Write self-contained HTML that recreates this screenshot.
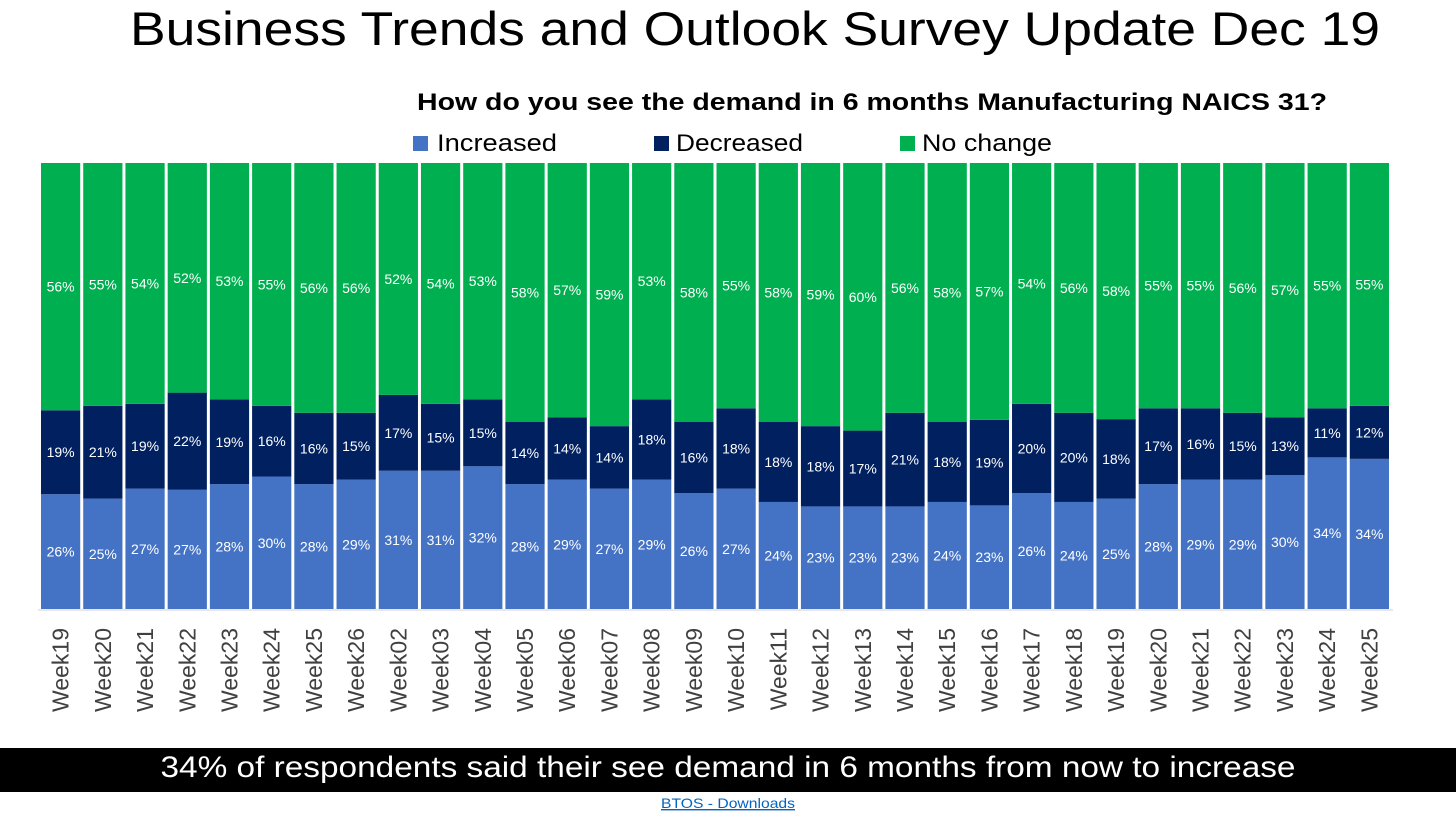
<!DOCTYPE html>
<html><head><meta charset="utf-8"><style>
html,body{margin:0;padding:0;background:#fff;}
svg{display:block;font-family:"Liberation Sans",sans-serif;}
</style></head><body>
<svg id="chart" width="1456" height="819" viewBox="0 0 1456 819">
<text x="755" y="45" text-anchor="middle" font-size="47" fill="#000" textLength="1250" lengthAdjust="spacingAndGlyphs">Business Trends and Outlook Survey Update Dec 19</text>
<text x="872" y="110" text-anchor="middle" font-size="24" font-weight="bold" fill="#000" textLength="910" lengthAdjust="spacingAndGlyphs">How do you see the demand in 6 months Manufacturing NAICS 31?</text>
<g font-size="24" fill="#000">
<rect x="413" y="136" width="15" height="15" fill="#4472C4"/>
<text x="437" y="151" textLength="120" lengthAdjust="spacingAndGlyphs">Increased</text>
<rect x="654" y="136" width="15" height="15" fill="#002060"/>
<text x="676" y="151" textLength="127" lengthAdjust="spacingAndGlyphs">Decreased</text>
<rect x="900" y="136" width="15" height="15" fill="#00B050"/>
<text x="922" y="151" textLength="130" lengthAdjust="spacingAndGlyphs">No change</text>
</g>
<g id="bars"></g>
<line x1="38" y1="610" x2="1393" y2="610" stroke="#d0d0d0" stroke-width="1"/>
<g id="xlabels"></g>
<rect x="0" y="748" width="1456" height="44" fill="#000"/>
<text x="728" y="777" text-anchor="middle" font-size="30" fill="#fff" textLength="1135" lengthAdjust="spacingAndGlyphs">34% of respondents said their see demand in 6 months from now to increase</text>
<a><text x="728" y="808" text-anchor="middle" font-size="14" fill="#0563C1" text-decoration="underline" textLength="134" lengthAdjust="spacingAndGlyphs">BTOS - Downloads</text></a>
</svg>
<script>
const categories = ["Week19","Week20","Week21","Week22","Week23","Week24","Week25","Week26","Week02","Week03","Week04","Week05","Week06","Week07","Week08","Week09","Week10","Week11","Week12","Week13","Week14","Week15","Week16","Week17","Week18","Week19","Week20","Week21","Week22","Week23","Week24","Week25"];
const increased = [26,25,27,27,28,30,28,29,31,31,32,28,29,27,29,26,27,24,23,23,23,24,23,26,24,25,28,29,29,30,34,34];
const decreased = [19,21,19,22,19,16,16,15,17,15,15,14,14,14,18,16,18,18,18,17,21,18,19,20,20,18,17,16,15,13,11,12];
const noChange = [56,55,54,52,53,55,56,56,52,54,53,58,57,59,53,58,55,58,59,60,56,58,57,54,56,58,55,55,56,57,55,55];

(function(){
const NS = "http://www.w3.org/2000/svg";
const plotL = 41, plotR = 1392, plotT = 163, plotB = 609;
const pitch = (plotR - plotL) / categories.length, bw = pitch - 3;
const xPos = i => plotL + i * pitch;
const yScale = f => plotB - f * (plotB - plotT);
const bars = document.getElementById('bars');
const xl = document.getElementById('xlabels');
const series = [
  {vals: increased, color: "#4472C4", name: "increased"},
  {vals: decreased, color: "#002060", name: "decreased"},
  {vals: noChange, color: "#00B050", name: "no-change"}
];
categories.forEach((c, i) => {
  const total = increased[i] + decreased[i] + noChange[i];
  let cum = 0;
  series.forEach(s => {
    const v = s.vals[i];
    const y0 = yScale(cum / total), y1 = yScale((cum + v) / total);
    cum += v;
    const r = document.createElementNS(NS, 'rect');
    
    
    r.setAttribute('x', xPos(i));
    r.setAttribute('y', y1);
    r.setAttribute('width', bw);
    r.setAttribute('height', y0 - y1);
    r.setAttribute('fill', s.color);
    bars.appendChild(r);
    const t = document.createElementNS(NS, 'text');
    
    
    t.setAttribute('x', xPos(i) + bw / 2);
    t.setAttribute('y', (y0 + y1) / 2 + 5);
    t.setAttribute('text-anchor', 'middle');
    t.setAttribute('font-size', '14');
    t.setAttribute('fill', '#fff');
    t.textContent = v + '%';
    bars.appendChild(t);
  });
  const lt = document.createElementNS(NS, 'text');
  
  
  const cx = xPos(i) + bw / 2 + 8, cy = 628;
  lt.setAttribute('x', cx);
  lt.setAttribute('y', cy);
  lt.setAttribute('transform', 'rotate(-90 ' + cx + ' ' + cy + ')');
  lt.setAttribute('text-anchor', 'end');
  lt.setAttribute('font-size', '23');
  lt.setAttribute('fill', '#404040');
  lt.textContent = c;
  xl.appendChild(lt);
});
})();
</script>
</body></html>
